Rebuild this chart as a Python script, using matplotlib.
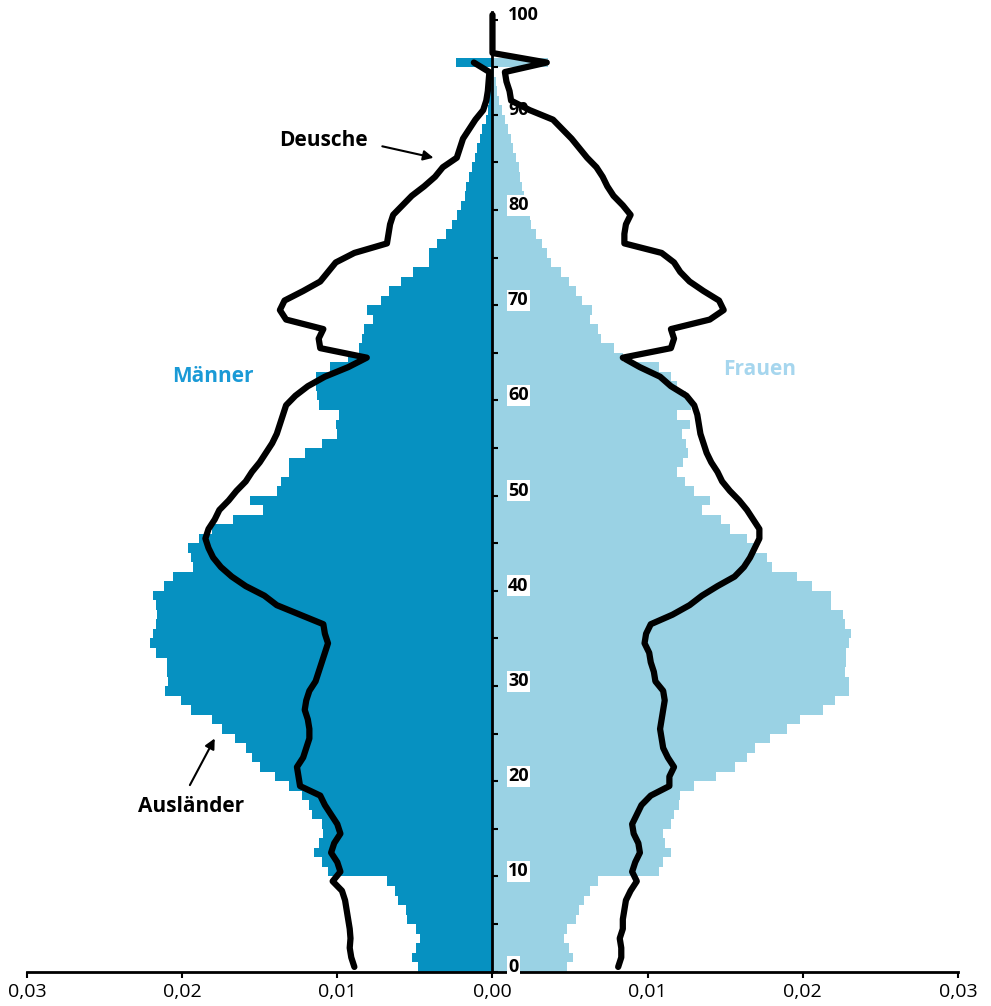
import numpy as np
import matplotlib
matplotlib.use("Agg")
import matplotlib.pyplot as plt

plt.rcParams['font.family'] = ['Open Sans', 'DejaVu Sans']

# --------------------------------------------------------------------------------
#                                       Data
# --------------------------------------------------------------------------------
# share of population per year of age (in 1/1000), Auslaender (bars)
ages = list(range(0, 96))
maenner = [4.8, 5.2, 4.9, 4.7, 4.9, 5.5, 5.6, 6.1, 6.3, 6.8,
           10.6, 11.0, 11.5, 11.2, 10.9, 11.0, 11.6, 11.8, 12.3, 13.1,
           14.0, 15.0, 15.5, 15.9, 16.6, 17.4, 18.1, 19.4, 20.1, 21.1,
           20.9, 21.0, 21.0, 21.7, 22.1, 21.9, 21.7, 21.6, 21.7, 21.9,
           21.2, 20.6, 19.3, 19.4, 19.6, 18.9, 18.1, 16.7, 14.8, 15.6,
           13.9, 13.6, 13.1, 13.1, 12.1, 11.0, 10.0, 10.1, 9.9, 11.2,
           11.3, 11.4, 11.4, 10.5, 9.3, 8.6, 8.4, 8.3, 7.7, 8.1,
           7.2, 6.7, 5.9, 5.1, 4.1, 4.1, 3.6, 3.0, 2.6, 2.3,
           2.0, 1.8, 1.7, 1.5, 1.3, 1.1, 1.0, 0.8, 0.7, 0.4,
           0.3, 0.2, 0.15, 0.1, 0.05, 2.35]
frauen = [4.8, 5.2, 4.9, 4.6, 4.8, 5.4, 5.6, 5.9, 6.3, 6.8,
          10.7, 11.0, 11.5, 11.1, 11.0, 11.5, 11.7, 12.0, 12.1, 13.0,
          14.4, 15.6, 16.4, 16.9, 17.9, 19.0, 19.8, 21.3, 22.1, 23.0,
          23.0, 22.7, 22.8, 22.8, 23.0, 23.1, 22.7, 22.6, 21.8, 21.8,
          20.6, 19.6, 18.0, 17.7, 17.0, 16.4, 15.3, 14.7, 13.5, 14.0,
          13.0, 12.4, 11.9, 12.3, 12.6, 12.5, 12.2, 12.7, 11.9, 12.8,
          12.5, 11.9, 11.5, 10.7, 8.4, 7.8, 7.0, 6.8, 6.3, 6.4,
          5.8, 5.4, 4.9, 4.4, 3.8, 3.5, 3.2, 2.8, 2.5, 2.4,
          2.2, 2.0, 1.9, 1.8, 1.7, 1.5, 1.3, 1.2, 1.0, 0.8,
          0.6, 0.4, 0.3, 0.2, 0.1, 3.6]

# Deutsche (lines)
ages_de_m = list(range(0, 96))
deutsche_m = [8.9, 9.1, 9.2, 9.15, 9.2, 9.3, 9.4, 9.5, 9.7, 10.3,
              9.8, 10.0, 10.4, 10.2, 9.8, 10.0, 10.4, 10.8, 11.1, 12.4,
              12.5, 12.6, 12.2, 12.0, 11.8, 11.8, 11.9, 12.1, 12.0, 11.8,
              11.4, 11.2, 11.0, 10.8, 10.6, 10.8, 10.9, 12.4, 13.9, 14.7,
              15.9, 16.8, 17.5, 18.0, 18.3, 18.5, 18.3, 17.9, 17.6, 17.0,
              16.5, 15.9, 15.5, 15.0, 14.6, 14.2, 13.9, 13.7, 13.5, 13.3,
              12.7, 11.9, 10.8, 9.3, 8.1, 11.1, 11.2, 10.9, 13.3, 13.7,
              13.4, 12.2, 11.1, 10.6, 10.1, 8.9, 6.8, 6.7, 6.6, 6.4,
              5.8, 5.2, 4.4, 3.7, 3.2, 2.3, 2.1, 1.9, 1.5, 1.1,
              0.6, 0.4, 0.3, 0.25, 0.2, 1.2]
ages_de_f = list(range(0, 101))
deutsche_f = [8.1, 8.3, 8.3, 8.2, 8.4, 8.4, 8.5, 8.6, 8.9, 9.3,
              9.0, 9.2, 9.5, 9.4, 9.1, 9.0, 9.3, 9.6, 10.2, 11.4,
              11.4, 11.7, 11.3, 11.0, 10.9, 10.8, 10.9, 11.0, 11.1, 11.0,
              10.5, 10.4, 10.2, 10.1, 9.8, 9.9, 10.2, 11.6, 12.7, 13.5,
              14.5, 15.6, 16.2, 16.6, 16.9, 17.2, 17.2, 16.8, 16.4, 15.9,
              15.3, 14.8, 14.5, 14.1, 13.8, 13.6, 13.4, 13.3, 13.2, 13.0,
              12.5, 11.5, 10.8, 9.5, 8.4, 11.5, 11.7, 11.5, 14.0, 14.9,
              14.6, 13.6, 12.7, 12.1, 11.7, 10.9, 8.5, 8.5, 8.6, 8.9,
              8.4, 7.8, 7.4, 7.1, 6.7, 6.1, 5.6, 5.1, 4.5, 3.9,
              2.4, 1.2, 1.1, 0.9, 0.8, 3.5, 0.0, 0.0, 0.0, 0.0, 0.0]

x_ticks = [-0.03, -0.02, -0.01, 0.0, 0.01, 0.02, 0.03]
x_labels = ["0,03", "0,02", "0,01", "0,00", "0,01", "0,02", "0,03"]
y_labels = [0, 10, 20, 30, 40, 50, 60, 70, 80, 90, 100]

# --------------------------------------------------------------------------------
#                                       Plot
# --------------------------------------------------------------------------------
dark_blue = "#0691c1"
light_blue = "#9ad2e4"

fig = plt.figure(figsize=(9.91, 10.06), dpi=100)
ax = fig.add_axes([0.0272, 0.0341, 0.9395, 0.9539])

m = np.array(maenner) * 1e-3
f = np.array(frauen) * 1e-3
ax.barh(ages, -m, height=1.0, align='edge', color=dark_blue, linewidth=0, zorder=1)
ax.barh(ages, f, height=1.0, align='edge', color=light_blue, linewidth=0, zorder=1)

# ---> Deutsche lines
ax.plot(-np.array(deutsche_m) * 1e-3, np.array(ages_de_m) + 0.5, color='black',
        linewidth=4.5, solid_capstyle='round', zorder=4)
ax.plot(np.array(deutsche_f) * 1e-3, np.array(ages_de_f) + 0.5, color='black',
        linewidth=4.5, solid_capstyle='round', zorder=4)

# ---> axes
ax.set_xlim(-0.03, 0.03)
ax.set_ylim(0, 100.8)
ax.spines['top'].set_visible(False)
ax.spines['right'].set_visible(False)
ax.spines['left'].set_position(('data', 0))
ax.spines['left'].set_linewidth(2)
ax.spines['bottom'].set_linewidth(2)
ax.spines['left'].set_bounds(0, 100.8)
ax.set_xticks(x_ticks)
ax.set_xticklabels(x_labels)
ax.tick_params(axis='x', direction='out', length=4, width=1.5, labelsize=14, pad=4)
ax.set_yticks(np.arange(0, 101, 5))
ax.tick_params(axis='y', direction='in', length=4, width=1.5, labelleft=False)
ax.set_facecolor('none')

# ---> age labels right of the axis
for a in y_labels:
    ax.text(0.001, a, str(a), fontsize=13, fontweight='bold', ha='left', va='baseline',
            zorder=3, bbox=dict(facecolor='white', edgecolor='none', pad=1))

# ---> annotations
ax.text(-0.0180, 62.5, "Männer", color="#1a9ad6", fontsize=15, fontweight='bold',
        ha='center', va='center')
ax.text(0.0172, 63.3, "Frauen", color="#a6d6ee", fontsize=15, fontweight='bold',
        ha='center', va='center')
ax.text(-0.0109, 87.3, "Deusche", fontsize=15, fontweight='bold', ha='center', va='center')
ax.text(-0.0194, 17.4, "Ausländer", fontsize=15, fontweight='bold', ha='center', va='center')
ax.annotate("", xy=(-0.0038, 85.5), xytext=(-0.0071, 86.7),
            arrowprops=dict(arrowstyle='-|>', color='black', lw=1.5, mutation_scale=15,
                            shrinkA=0, shrinkB=0))
ax.annotate("", xy=(-0.0179, 24.5), xytext=(-0.0195, 19.6),
            arrowprops=dict(arrowstyle='-|>', color='black', lw=1.5, mutation_scale=15,
                            shrinkA=0, shrinkB=0))

fig.savefig("out.png", dpi=100)
plt.close()
